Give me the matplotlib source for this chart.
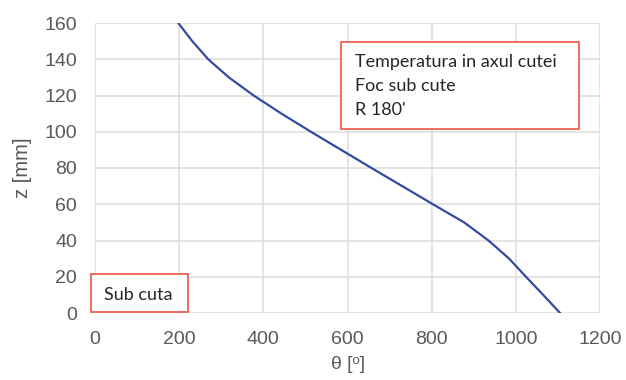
import matplotlib.pyplot as plt
from matplotlib.patches import Rectangle

# temperature along the rib axis (theta) vs height z
z_mm = [0, 10, 20, 30, 40, 50, 60, 70, 80, 90, 100, 110, 120, 130, 140, 150, 160]
theta = [1105, 1065, 1024, 984, 935, 877, 803, 730, 657, 585, 513, 443, 377, 318, 269, 231, 198]

x_ticks = [0, 200, 400, 600, 800, 1000, 1200]
y_ticks = [0, 20, 40, 60, 80, 100, 120, 140, 160]

W, H = 626, 380
fig = plt.figure(figsize=(W / 100, H / 100), dpi=100)
ax = fig.add_axes([95 / W, 1 - 313 / H, 505 / W, 290 / H])

ax.plot(theta, z_mm, color='#3549a0', lw=1.6, solid_joinstyle='round')

ax.set_xlim(0, 1200)
ax.set_ylim(0, 160)
ax.set_xticks(x_ticks)
ax.set_yticks(y_ticks)
ax.grid(color='#dcdcdc', lw=1.1)
ax.set_axisbelow(True)
for s in ax.spines.values():
    s.set_visible(False)
ax.tick_params(length=0, labelsize=14, labelcolor='#595959')
ax.tick_params(axis='x', pad=13)
ax.tick_params(axis='y', pad=13)
for lab in ax.get_xticklabels() + ax.get_yticklabels():
    lab.set_family('Liberation Sans')

fig.text(23 / W, 1 - 168 / H, 'z [mm]', rotation=90, ha='center', va='center',
         fontsize=14.5, color='#595959', family='Liberation Sans')
fig.text(348 / W, 1 - 364.5 / H, 'θ [ᵒ]', ha='center', va='center',
         fontsize=14, color='#595959', family=['Liberation Sans', 'DejaVu Sans'])

# annotation boxes
def box(x0, y0, x1, y1):
    fig.patches.append(Rectangle((x0 / W, 1 - y1 / H), (x1 - x0) / W, (y1 - y0) / H,
                                 transform=fig.transFigure, facecolor='white',
                                 edgecolor='#ee6150', lw=1.3, zorder=5))

box(341, 42, 579, 129)
for i, t in enumerate(['Temperatura in axul cutei', 'Foc sub cute', "R 180'"]):
    fig.text(355 / W, 1 - (67 + i * 24.2) / H, t, ha='left', va='baseline',
             fontsize=13, color='#262626', family='Lato', zorder=6)

box(91, 274, 188, 312)
fig.text(104 / W, 1 - 299.5 / H, 'Sub cuta', ha='left', va='baseline',
         fontsize=13, color='#262626', family='Lato', zorder=6)

fig.savefig('out.png', dpi=100)
